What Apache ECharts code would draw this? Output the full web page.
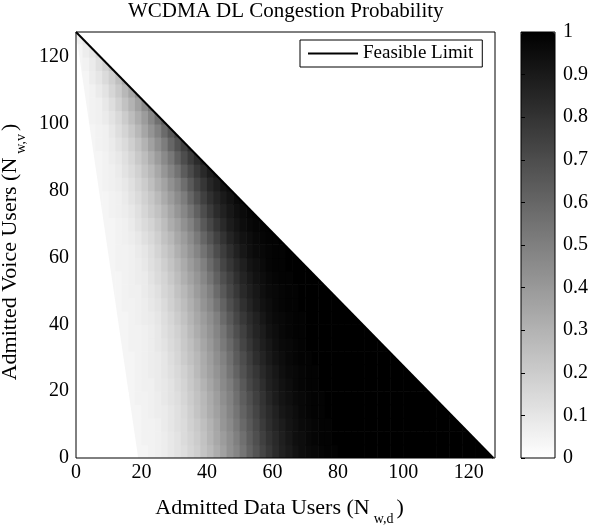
<!DOCTYPE html>
<html>
<head>
<meta charset="utf-8">
<script src="https://cdn.jsdelivr.net/npm/echarts@6/dist/echarts.min.js"></script>
<style>html,body{margin:0;padding:0;background:#fff}#c{width:592px;height:529px}</style>
</head>
<body>
<div id="c"></div>
<script>
// Admitted data users: left edge of each 2-user column
const dataUsers = [0,2,4,6,8,10,12,14,16,18,20,22,24,26,28,30,32,34,36,38,40,42,44,46,48,50,52,54,56,58,60,62,64,66,68,70,72,74,76,78,80,82,84,86,88,90,92,94,96,98,100,102,104,106,108,110,112,114,116,118,120,122,124,126];
// Admitted voice users: bottom edge of each 4-user row
const voiceUsers = [0,4,8,12,16,20,24,28,32,36,40,44,48,52,56,60,64,68,72,76,80,84,88,92,96,100,104,108,112,116,120,124];
// Congestion probability (%), one row per voiceUsers entry
const congestion = [
[0,0,0,0,0,0,0,0,0,4,4,5,6,7,9,11,13,16,19,23,27,32,37,43,48,54,61,67,73,78,83,87,90,93,95,96,97,98,99,99,100,100,100,100,100,100,100,100,100,100,100,100,100,100,100,100,100,100,100,100,100,100,100,100],
[0,0,0,0,0,0,0,0,4,4,5,5,6,7,9,11,14,17,20,24,29,34,39,44,50,56,63,69,75,80,84,88,91,94,95,97,98,99,99,100,100,100,100,100,100,100,100,100,100,100,100,100,100,100,100,100,100,100,100,100,100,100],
[0,0,0,0,0,0,0,0,4,4,5,5,6,8,10,12,14,18,21,25,30,35,41,46,52,59,65,71,77,82,86,89,92,94,96,97,98,99,99,100,100,100,100,100,100,100,100,100,100,100,100,100,100,100,100,100,100,100,100,100],
[0,0,0,0,0,0,0,0,4,4,5,6,7,8,10,12,15,19,23,27,32,37,42,48,54,61,67,73,79,83,87,91,93,95,97,98,99,99,100,100,100,100,100,100,100,100,100,100,100,100,100,100,100,100,100,100,100,100],
[0,0,0,0,0,0,0,0,4,5,5,6,7,9,11,13,16,20,24,28,33,38,44,49,56,63,69,75,80,85,89,92,94,96,97,98,99,99,100,100,100,100,100,100,100,100,100,100,100,100,100,100,100,100,100,100],
[0,0,0,0,0,0,0,4,4,5,6,6,8,9,11,14,17,21,25,30,35,40,46,51,58,65,72,77,82,87,90,93,95,97,98,99,99,100,100,100,100,100,100,100,100,100,100,100,100,100,100,100,100,100],
[0,0,0,0,0,0,0,4,4,5,6,7,8,10,12,15,18,22,27,32,37,42,47,54,61,68,74,79,84,88,91,94,96,97,98,99,99,100,100,100,100,100,100,100,100,100,100,100,100,100,100,100],
[0,0,0,0,0,0,0,4,4,5,6,7,8,10,13,16,20,24,28,33,38,44,49,56,64,70,76,82,86,90,93,95,97,98,99,99,100,100,100,100,100,100,100,100,100,100,100,100,100,100],
[0,0,0,0,0,0,4,4,5,5,6,7,9,11,14,17,21,25,30,35,40,46,52,59,66,73,79,84,88,91,94,96,97,98,99,100,100,100,100,100,100,100,100,100,100,100,100,100],
[0,0,0,0,0,0,4,4,5,5,6,7,9,12,15,18,22,27,32,37,42,48,54,62,69,75,81,86,89,93,95,97,98,99,99,100,100,100,100,100,100,100,100,100,100,100],
[0,0,0,0,0,0,4,4,5,6,7,8,10,13,16,20,24,29,34,39,44,50,58,65,72,78,83,87,91,94,96,97,98,99,99,100,100,100,100,100,100,100,100,100],
[0,0,0,0,0,4,4,5,5,6,7,9,11,14,18,22,26,31,36,42,47,54,61,69,75,81,86,90,93,95,97,98,99,99,100,100,100,100,100,100,100,100],
[0,0,0,0,0,4,4,5,6,6,8,10,12,16,19,24,28,33,39,44,50,58,65,72,78,84,88,91,94,96,97,98,99,99,100,100,100,100,100,100],
[0,0,0,0,0,4,4,5,6,7,8,11,14,17,21,26,31,36,41,47,54,62,69,75,81,86,90,93,95,97,98,99,99,100,100,100,100,100],
[0,0,0,0,0,4,5,5,6,7,9,12,15,19,23,28,33,39,44,50,58,65,73,79,84,88,92,94,96,98,99,99,100,100,100,100],
[0,0,0,0,4,4,5,5,6,8,10,13,17,21,25,31,36,42,48,55,62,70,76,82,87,91,94,96,97,98,99,99,100,100],
[0,0,0,0,4,4,5,6,7,9,12,15,19,24,28,34,39,45,52,60,67,74,80,86,90,93,95,97,98,99,99,100],
[0,0,0,0,4,4,5,6,8,11,14,17,21,26,32,37,43,49,57,65,72,79,84,89,92,95,97,98,99,99],
[0,0,0,4,4,5,6,7,9,12,16,20,24,29,35,41,47,54,62,70,77,83,87,91,94,96,98,99],
[0,0,0,4,4,5,6,8,11,14,18,22,27,33,39,45,51,60,68,75,81,86,90,93,96,97],
[0,0,0,4,5,6,7,9,12,16,20,25,31,36,43,49,57,65,73,79,85,89,93,95],
[0,0,4,4,5,6,8,11,14,18,23,28,34,41,48,55,64,71,78,84,89,92],
[0,0,4,4,5,7,9,12,16,21,26,32,39,46,53,62,70,77,83,88],
[0,0,4,5,6,8,11,14,19,24,30,37,44,51,60,68,75,82],
[0,0,4,5,6,9,13,17,22,28,35,42,49,58,66,74],
[0,4,5,6,8,11,15,20,26,32,39,47,56,64],
[0,4,5,6,9,13,18,24,30,37,45,53],
[0,4,5,8,11,16,21,28,35,43],
[4,4,7,10,14,19,25,33],
[4,5,8,12,17,23],
[4,7,10,15],
[6,9]
];
// Edge of the zero-probability (white) region
const zeroEdgeDataUsers = [19, 0];
const zeroEdgeVoiceUsers = [0, 127];
// Feasible limit line end points
const limitDataUsers = [0, 127.5];
const limitVoiceUsers = [127.5, 0];

const cellWidth = 2, cellHeight = 4;
const xMax = 128, yMax = 127.5;
const FONT = '"Liberation Serif", "Times New Roman", serif';

const cells = [];
congestion.forEach((row, r) => row.forEach((v, c) => cells.push([dataUsers[c], voiceUsers[r], v])));
const limitLine = limitDataUsers.map((x, i) => [x, limitVoiceUsers[i]]);

const chart = echarts.init(document.getElementById('c'), null, {renderer: 'canvas'});
chart.setOption({
  animation: false,
  backgroundColor: '#fff',
  textStyle: {fontFamily: FONT, color: '#000'},
  title: {
    text: 'WCDMA DL Congestion Probability',
    left: 128, top: 1, padding: 0,
    textStyle: {fontFamily: FONT, fontSize: 21, fontWeight: 'normal', color: '#000'}
  },
  legend: {
    data: [{name: 'Feasible Limit', icon: 'rect'}],
    left: 300, top: 40,
    itemWidth: 50, itemHeight: 2,
    padding: [4, 9, 4, 8],
    borderColor: '#000', borderWidth: 1, borderRadius: 0,
    backgroundColor: '#fff',
    selectedMode: false,
    itemStyle: {color: '#000'},
    textStyle: {fontFamily: FONT, fontSize: 19, color: '#000'},
    z: 20
  },
  grid: [
    {left: 76, top: 32, width: 419, height: 426, outerBoundsMode: 'none', containLabel: false, show: true, borderColor: '#000', borderWidth: 1, backgroundColor: 'transparent', z: 10},
    {left: 521, top: 32, width: 34, height: 426, outerBoundsMode: 'none', containLabel: false, show: true, borderColor: '#000', borderWidth: 1, backgroundColor: 'transparent', z: 10}
  ],
  xAxis: [
    {
      type: 'value', gridIndex: 0, min: 0, max: xMax, interval: 20,
      axisLine: {show: false}, axisTick: {show: false}, splitLine: {show: false},
      axisLabel: {fontFamily: FONT, fontSize: 20, color: '#000', margin: 5, showMaxLabel: false},
      name: 'Admitted Data Users (N{s|w,d})',
      nameLocation: 'middle', nameGap: 33,
      nameTextStyle: {
        fontFamily: FONT, fontSize: 22, color: '#000', padding: [0, 12, 0, 0],
        rich: {s: {fontFamily: FONT, fontSize: 14, color: '#000', padding: [21, 3, 0, 4]}}
      }
    },
    {type: 'value', gridIndex: 1, min: 0, max: 1, show: false}
  ],
  yAxis: [
    {
      type: 'value', gridIndex: 0, min: 0, max: yMax, interval: 20,
      axisLine: {show: false}, axisTick: {show: false}, splitLine: {show: false},
      axisLabel: {fontFamily: FONT, fontSize: 20, color: '#000', margin: 7, showMaxLabel: false},
      name: 'Admitted Voice Users (N{s|w,v})',
      nameLocation: 'middle', nameGap: 41,
      nameTextStyle: {
        fontFamily: FONT, fontSize: 22, color: '#000', padding: [0, 14, 0, 0],
        rich: {s: {fontFamily: FONT, fontSize: 14, color: '#000', padding: [21, 3, 0, 4]}}
      }
    },
    {
      type: 'value', gridIndex: 1, min: 0, max: 1, interval: 0.1, position: 'right',
      axisLine: {show: false},
      axisTick: {show: false},
      splitLine: {show: false},
      axisLabel: {fontFamily: FONT, fontSize: 20, color: '#000', margin: 8, formatter: v => String(+v.toFixed(1))},
      z: 10
    },
    {
      type: 'value', gridIndex: 1, min: 0, max: 1, interval: 0.1, position: 'left',
      axisLine: {show: false},
      axisTick: {show: true, inside: true, length: 4, lineStyle: {color: '#000'}},
      splitLine: {show: false},
      axisLabel: {show: false},
      z: 12
    }
  ],
  visualMap: {
    type: 'continuous', min: 0, max: 100, dimension: 2, seriesIndex: 0,
    inRange: {color: ['#ffffff', '#000000']},
    left: 521, top: 32, itemWidth: 34, itemHeight: 426,
    calculable: false, hoverLink: false, padding: 0, text: null,
    orient: 'vertical', z: 1
  },
  series: [
    {
      type: 'custom', coordinateSystem: 'cartesian2d', xAxisIndex: 0, yAxisIndex: 0,
      dimensions: ['data', 'voice', 'p'],
      encode: {x: 0, y: 1},
      data: cells, clip: true, silent: true, z: 2,
      renderItem: function (params, api) {
        const x0 = api.value(0), y0 = api.value(1);
        const tl = api.coord([x0, y0 + cellHeight]);
        const br = api.coord([x0 + cellWidth, y0]);
        return {
          type: 'rect',
          shape: {x: tl[0], y: tl[1], width: br[0] - tl[0] + 0.6, height: br[1] - tl[1] + 0.6},
          style: {fill: api.visual('color')}
        };
      }
    },
    {
      type: 'custom', coordinateSystem: 'cartesian2d', xAxisIndex: 0, yAxisIndex: 0,
      data: [[0, 0]], encode: {x: 0, y: 1}, clip: true, silent: true, z: 3,
      renderItem: function (params, api) {
        const infeasible = [
          api.coord([limitDataUsers[0], limitVoiceUsers[0]]),
          api.coord([limitDataUsers[1], limitVoiceUsers[1]]),
          api.coord([xMax, 0]),
          api.coord([xMax, yMax])
        ];
        const zeroRegion = [
          api.coord([0, 0]),
          api.coord([zeroEdgeDataUsers[0], zeroEdgeVoiceUsers[0]]),
          api.coord([zeroEdgeDataUsers[1], zeroEdgeVoiceUsers[1]])
        ];
        return {
          type: 'group',
          children: [
            {type: 'polygon', shape: {points: infeasible}, style: {fill: '#ffffff'}},
            {type: 'polygon', shape: {points: zeroRegion}, style: {fill: '#ffffff'}}
          ]
        };
      }
    },
    {
      name: 'Feasible Limit', type: 'line', xAxisIndex: 0, yAxisIndex: 0,
      data: limitLine, symbol: 'none', silent: true, z: 4,
      lineStyle: {color: '#000', width: 2},
      itemStyle: {color: '#000'}
    }
  ]
});
</script>
</body>
</html>
